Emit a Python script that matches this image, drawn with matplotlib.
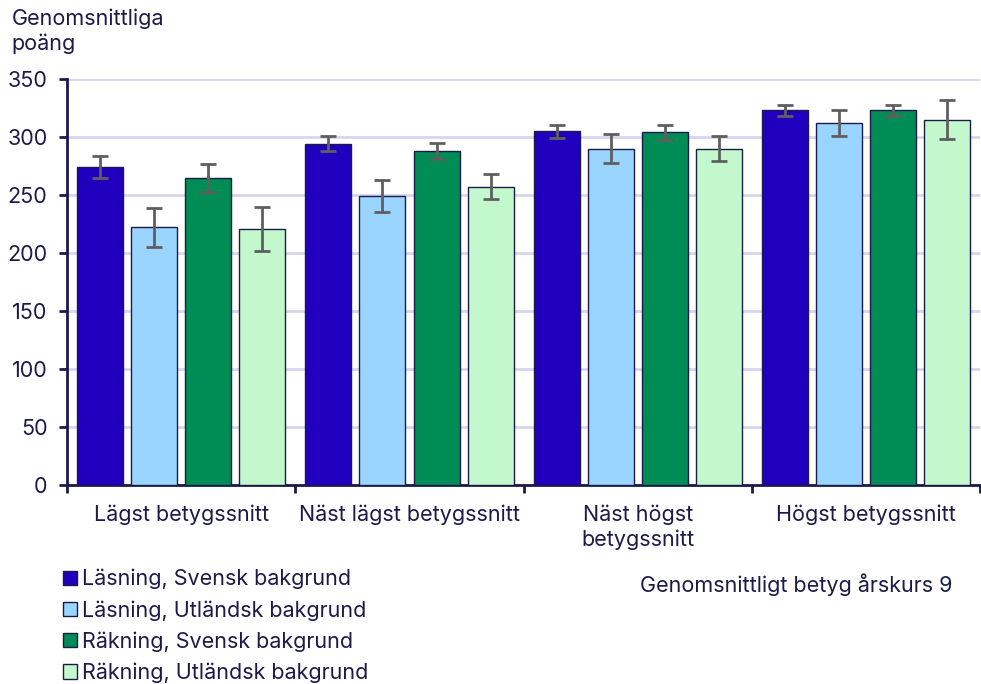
import matplotlib.pyplot as plt
import numpy as np
from matplotlib.patches import Patch

plt.rcParams['font.family'] = ['Inter', 'DejaVu Sans']

kategorier = ["Lägst betygssnitt", "Näst lägst betygssnitt", "Näst högst\nbetygssnitt", "Högst betygssnitt"]
serier = ["Läsning, Svensk bakgrund", "Läsning, Utländsk bakgrund",
          "Räkning, Svensk bakgrund", "Räkning, Utländsk bakgrund"]
lasning_sv = [274, 294, 305, 323]
lasning_utl = [222, 249, 290, 312]
rakning_sv = [265, 288, 304, 323]
rakning_utl = [221, 257, 290, 315]
fel_lasning_sv = [9.5, 6.5, 5.5, 4.7]
fel_lasning_utl = [17, 13.5, 12.8, 11.2]
fel_rakning_sv = [12, 6.7, 6.5, 5]
fel_rakning_utl = [19, 10.7, 11, 17]

farger = ['#2000BE', '#99D5FF', '#008C55', '#C2F8CC']
textfarg = '#1b1a4a'
fs = 15.5

varden = [lasning_sv, lasning_utl, rakning_sv, rakning_utl]
fel = [fel_lasning_sv, fel_lasning_utl, fel_rakning_sv, fel_rakning_utl]

fig = plt.figure(figsize=(9.81, 6.84), dpi=100)
ax = fig.add_axes([0.0683, 0.291, 0.931, 0.5935])

x = np.arange(len(kategorier))
bredd = 0.2018
steg = 0.237
for i in range(4):
    pos = x - 1.5 * steg + i * steg
    ax.bar(pos, varden[i], width=bredd, color=farger[i], edgecolor=textfarg,
           linewidth=1.0, zorder=3)
    ax.errorbar(pos, varden[i], yerr=fel[i], fmt='none', ecolor='#5f5f5f',
                elinewidth=2, capsize=6, capthick=2, zorder=4)

ax.set_xlim(-0.5, 3.5)
ax.set_ylim(0, 350)
ax.set_yticks(range(0, 351, 50))
ax.grid(axis='y', color='#d5d5ee', linewidth=2, zorder=0)
ax.set_axisbelow(True)

for s in ['top', 'right']:
    ax.spines[s].set_visible(False)
for s in ['left', 'bottom']:
    ax.spines[s].set_color(textfarg)
    ax.spines[s].set_linewidth(2)

ax.set_xticks(x)
ax.set_xticklabels(kategorier, fontsize=fs, color=textfarg, va='top', linespacing=1.25)
ax.tick_params(axis='x', length=0, pad=14)
ax.set_xticks([-0.5, 0.5, 1.5, 2.5, 3.5], minor=True)
ax.tick_params(axis='x', which='minor', length=6, width=2, color=textfarg, direction='out')
ax.tick_params(axis='y', labelsize=fs, labelcolor=textfarg, length=6, width=2,
               color=textfarg, pad=8)

fig.text(0.012, 0.988, "Genomsnittliga\npoäng", fontsize=fs, color=textfarg,
         va='top', ha='left', linespacing=1.3)

handles = [Patch(facecolor=farger[i], edgecolor=textfarg, label=serier[i]) for i in range(4)]
leg = fig.legend(handles=handles, loc='upper left', bbox_to_anchor=(0.055, 0.181),
                 frameon=False, fontsize=fs, handlelength=0.65, handleheight=0.65,
                 handletextpad=0.25, labelspacing=0.5, borderaxespad=0)
for t in leg.get_texts():
    t.set_color(textfarg)

fig.text(0.812, 0.145, "Genomsnittligt betyg årskurs 9", fontsize=fs,
         color=textfarg, ha='center', va='center')

fig.savefig('out.png', dpi=100)
